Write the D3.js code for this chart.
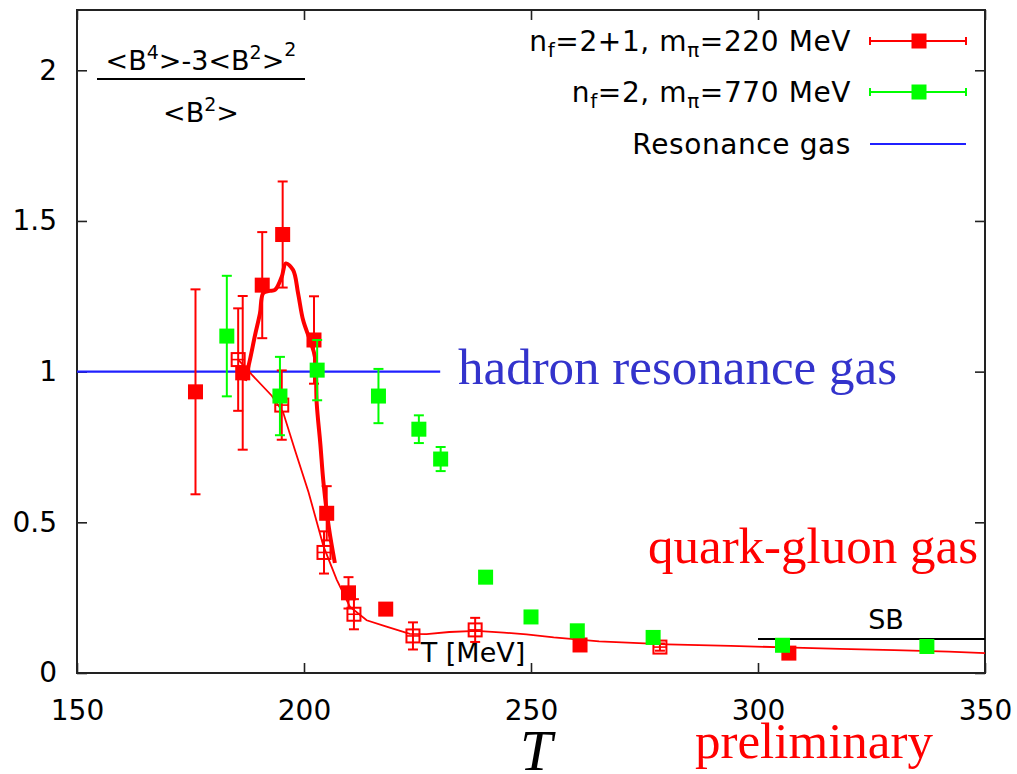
<!DOCTYPE html>
<html>
<head>
<meta charset="utf-8">
<script src="https://cdn.jsdelivr.net/npm/d3@7"></script>
<style>
  html, body { margin: 0; padding: 0; background: #fff; }
  svg { display: block; }
</style>
</head>
<body>
<svg id="chart" width="1017" height="774"></svg>
<script>
// ---- data -------------------------------------------------------------
// n_f = 2+1, m_pi = 220 MeV : filled squares with errors
const redT   = [176.1, 186.5, 190.8, 195.3, 202.2, 205.0, 209.8, 218.0, 260.8, 306.8];
const redV   = [0.933, 0.996, 1.287, 1.455, 1.105, 0.530, 0.266, 0.212, 0.093, 0.066];
const redE   = [0.34, 0.255, 0.176, 0.176, 0.145, 0.09, 0.052, 0, 0, 0];

// n_f = 2+1 open squares (second set of runs)
const openT  = [185.5, 195.1, 204.4, 211.0, 224.0, 237.7, 278.4];
const openV  = [1.040, 0.889, 0.400, 0.195, 0.123, 0.143, 0.086];
const openE  = [0.17, 0.115, 0.07, 0.05, 0.045, 0.04, 0.012];

// n_f = 2, m_pi = 770 MeV
const greenT = [183.0, 194.7, 202.9, 216.4, 225.3, 230.1, 240.0, 250.0, 260.2, 276.9, 305.4, 337.2];
const greenV = [1.118, 0.919, 1.005, 0.919, 0.809, 0.710, 0.318, 0.186, 0.140, 0.118, 0.092, 0.088];
const greenE = [0.20, 0.13, 0.10, 0.09, 0.046, 0.04, 0, 0, 0, 0, 0, 0];

// interpolation through the open squares
const fitT = [185.5, 188.5, 192.9, 195.4, 198.0, 201.0, 204.3, 207.2, 210.1, 213.8, 218.0, 223.3, 227.0, 232.0, 238.0, 244.0, 249.0, 255.0, 265.0, 280.0, 294.0, 306.0, 318.0, 330.0, 342.0, 350.0];
const fitV = [1.040, 0.990, 0.920, 0.865, 0.740, 0.600, 0.420, 0.310, 0.220, 0.175, 0.155, 0.130, 0.129, 0.136, 0.140, 0.134, 0.128, 0.118, 0.105, 0.095, 0.090, 0.085, 0.080, 0.076, 0.071, 0.066];

// peak curve through the filled squares
const peakT = [187.0, 188.1, 189.2, 190.3, 191.0, 192.3, 193.6, 195.1, 196.0, 197.6, 198.7, 199.8, 201.3, 202.4, 202.8, 203.6, 204.3, 205.5, 206.8];
const peakV = [0.970, 1.040, 1.120, 1.193, 1.260, 1.268, 1.271, 1.315, 1.359, 1.337, 1.260, 1.171, 1.105, 1.049, 0.895, 0.760, 0.630, 0.480, 0.365];

// resonance gas and Stefan-Boltzmann limits
const hrgT = [150, 230];
const hrgV = [1, 1];
const sbT  = [300, 350];
const sbV  = [0.113, 0.113];

const xTicks = [150, 200, 250, 300, 350];
const yTicks = [0, 0.5, 1, 1.5, 2];
const yTickLabels = ["0", "0.5", "1", "1.5", "2"];

// ---- layout -------------------------------------------------------------
const RED = "#ff0000", GREEN = "#00ff00", BLUE = "#2020ff";
const svg = d3.select("#chart");
const x = d3.scaleLinear().domain([150, 350]).range([77, 985]);
const y = d3.scaleLinear().domain([0, 2.2]).range([673, 10]);
const sans = "'DejaVu Sans', Verdana, sans-serif";
const serif = "'Liberation Serif', 'Times New Roman', serif";

// axes with inward ticks on all four sides
function styleAxis(g) {
  g.select(".domain").remove();
  g.selectAll(".tick line").attr("stroke", "#222").attr("stroke-width", 1.6);
  g.selectAll(".tick text").attr("fill", "#000").attr("font-family", sans).attr("font-size", 28);
}
svg.append("g").attr("transform", "translate(0,673)")
  .call(d3.axisBottom(x).tickValues(xTicks).tickSize(-10).tickPadding(27).tickFormat(d3.format("d")))
  .call(styleAxis);
svg.append("g").attr("transform", "translate(0,10)")
  .call(d3.axisTop(x).tickValues(xTicks).tickSize(-10).tickFormat(""))
  .call(styleAxis);
svg.append("g").attr("transform", "translate(77,0)")
  .call(d3.axisLeft(y).tickValues(yTicks).tickSize(-10).tickPadding(20).tickFormat((d, i) => yTickLabels[i]))
  .call(styleAxis);
svg.append("g").attr("transform", "translate(985,0)")
  .call(d3.axisRight(y).tickValues(yTicks).tickSize(-10).tickFormat(""))
  .call(styleAxis);

svg.append("rect")
  .attr("x", x(150)).attr("y", y(2.2))
  .attr("width", x(350) - x(150)).attr("height", y(0) - y(2.2))
  .attr("fill", "none").attr("stroke", "#222").attr("stroke-width", 2);

// axis label inside the frame
svg.append("text").attr("x", 473).attr("y", 662).attr("text-anchor", "middle")
  .attr("font-family", sans).attr("font-size", 27).text("T [MeV]");

// y label as a fraction
function richText(parent, parts, attrs) {
  const t = parent.append("text");
  Object.entries(attrs).forEach(([k, v]) => t.attr(k, v));
  let shift = 0;
  parts.forEach(p => {
    const target = p.shift || 0;
    const ts = t.append("tspan").attr("dy", -(target - shift)).text(p.t);
    if (p.size) ts.attr("font-size", p.size);
    shift = target;
  });
  return t;
}
richText(svg, [
  { t: "<B" }, { t: "4", shift: 11, size: 19 }, { t: ">-3<B" },
  { t: "2", shift: 11, size: 19 }, { t: ">" }, { t: "2", shift: 14, size: 19 }
], { x: 201, y: 70, "text-anchor": "middle", "font-family": sans, "font-size": 27, fill: "#000" });
svg.append("line").attr("x1", 97).attr("x2", 305).attr("y1", 79).attr("y2", 79)
  .attr("stroke", "#000").attr("stroke-width", 2);
richText(svg, [{ t: "<B" }, { t: "2", shift: 11, size: 19 }, { t: ">" }],
  { x: 201, y: 122, "text-anchor": "middle", "font-family": sans, "font-size": 27, fill: "#000" });

// ---- curves -------------------------------------------------------------
const line = d3.line().x(d => x(d[0])).y(d => y(d[1]));
svg.append("path").datum(d3.zip(hrgT, hrgV)).attr("d", line)
  .attr("fill", "none").attr("stroke", BLUE).attr("stroke-width", 2.2);
svg.append("path").datum(d3.zip(sbT, sbV)).attr("d", line)
  .attr("fill", "none").attr("stroke", "#000").attr("stroke-width", 2);
svg.append("text").attr("x", 886).attr("y", 629).attr("text-anchor", "middle")
  .attr("font-family", sans).attr("font-size", 27).text("SB");

svg.append("path").datum(d3.zip(fitT, fitV)).attr("d", line)
  .attr("fill", "none").attr("stroke", RED).attr("stroke-width", 1.8);
svg.append("path").datum(d3.zip(peakT, peakV)).attr("d", line.curve(d3.curveCatmullRom))
  .attr("fill", "none").attr("stroke", RED).attr("stroke-width", 4);

// ---- points with error bars -----------------------------------------------
function errorBars(T, V, E, color) {
  const g = svg.append("g").attr("stroke", color).attr("stroke-width", 2).attr("fill", "none");
  const data = d3.zip(T, V, E).filter(d => d[2] > 0);
  g.selectAll("line.v").data(data).join("line")
    .attr("x1", d => x(d[0])).attr("x2", d => x(d[0]))
    .attr("y1", d => y(d[1] - d[2])).attr("y2", d => y(d[1] + d[2]));
  g.selectAll("line.t").data(data).join("line")
    .attr("x1", d => x(d[0]) - 5).attr("x2", d => x(d[0]) + 5)
    .attr("y1", d => y(d[1] + d[2])).attr("y2", d => y(d[1] + d[2]));
  g.selectAll("line.b").data(data).join("line")
    .attr("x1", d => x(d[0]) - 5).attr("x2", d => x(d[0]) + 5)
    .attr("y1", d => y(d[1] - d[2])).attr("y2", d => y(d[1] - d[2]));
}

const S = 15, SO = 13;
errorBars(openT, openV, openE, RED);
svg.append("g").selectAll("rect").data(d3.zip(openT, openV)).join("rect")
  .attr("x", d => x(d[0]) - SO / 2).attr("y", d => y(d[1]) - SO / 2)
  .attr("width", SO).attr("height", SO)
  .attr("fill", "none").attr("stroke", RED).attr("stroke-width", 2);
svg.append("g").attr("stroke", RED).attr("stroke-width", 1.6)
  .selectAll("line").data(d3.zip(openT, openV)).join("line")
  .attr("x1", d => x(d[0]) - SO / 2).attr("x2", d => x(d[0]) + SO / 2)
  .attr("y1", d => y(d[1])).attr("y2", d => y(d[1]));

errorBars(redT, redV, redE, RED);
svg.append("g").selectAll("rect").data(d3.zip(redT, redV)).join("rect")
  .attr("x", d => x(d[0]) - S / 2).attr("y", d => y(d[1]) - S / 2)
  .attr("width", S).attr("height", S).attr("fill", RED);

errorBars(greenT, greenV, greenE, GREEN);
svg.append("g").selectAll("rect").data(d3.zip(greenT, greenV)).join("rect")
  .attr("x", d => x(d[0]) - S / 2).attr("y", d => y(d[1]) - S / 2)
  .attr("width", S).attr("height", S).attr("fill", GREEN);

// ---- legend ---------------------------------------------------------------
const legendRows = [
  { parts: [{ t: "n" }, { t: "f", shift: -6, size: 20 }, { t: "=2+1, m", shift: 0 }, { t: "π", shift: -6, size: 20 }, { t: "=220 MeV", shift: 0 }], color: RED, marker: true, cy: 41 },
  { parts: [{ t: "n" }, { t: "f", shift: -6, size: 20 }, { t: "=2, m", shift: 0 }, { t: "π", shift: -6, size: 20 }, { t: "=770 MeV", shift: 0 }], color: GREEN, marker: true, cy: 92 },
  { parts: [{ t: "Resonance gas" }], color: BLUE, marker: false, cy: 144 }
];
legendRows.forEach(r => {
  richText(svg, r.parts, { x: 851, y: r.cy + 10, "text-anchor": "end", "font-family": sans, "font-size": 28, "letter-spacing": 0.6, fill: "#000" });
  const g = svg.append("g").attr("stroke", r.color).attr("stroke-width", 2);
  g.append("line").attr("x1", 870).attr("x2", 966).attr("y1", r.cy).attr("y2", r.cy);
  if (r.marker) {
    g.append("line").attr("x1", 870).attr("x2", 870).attr("y1", r.cy - 4).attr("y2", r.cy + 4);
    g.append("line").attr("x1", 966).attr("x2", 966).attr("y1", r.cy - 4).attr("y2", r.cy + 4);
    svg.append("rect").attr("x", 919 - S / 2).attr("y", r.cy - S / 2).attr("width", S).attr("height", S).attr("fill", r.color);
  }
});

// ---- annotations ------------------------------------------------------------
svg.append("text").attr("x", 458).attr("y", 384).attr("font-family", serif).attr("font-size", 51)
  .attr("fill", "#3333cc").text("hadron resonance gas");
svg.append("text").attr("x", 648).attr("y", 563).attr("font-family", serif).attr("font-size", 51)
  .attr("fill", RED).text("quark-gluon gas");
svg.append("text").attr("x", 695).attr("y", 758).attr("font-family", serif).attr("font-size", 51)
  .attr("fill", RED).text("preliminary");
svg.append("text").attr("x", 520).attr("y", 770).attr("font-family", serif).attr("font-size", 58)
  .attr("font-style", "italic").attr("fill", "#000").text("T");
</script>
</body>
</html>
